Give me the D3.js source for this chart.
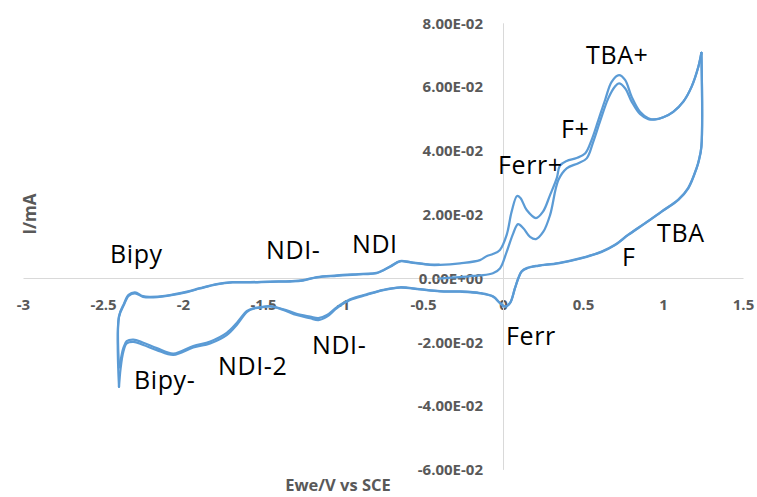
<!DOCTYPE html>
<html><head><meta charset="utf-8">
<script src="https://cdn.jsdelivr.net/npm/d3@7"></script>
<style>body{margin:0;background:#fff;} svg{display:block;}</style>
</head><body>
<svg id="chart" width="757" height="497"></svg>
<script>
// ---------- data ----------
const xTickValues = [-3, -2.5, -2, -1.5, -1, -0.5, 0, 0.5, 1, 1.5];
const xTickLabels = ["-3", "-2.5", "-2", "-1.5", "-1", "-0.5", "0", "0.5", "1", "1.5"];
const yTickValues = [0.08, 0.06, 0.04, 0.02, 0, -0.02, -0.04, -0.06];
const yTickLabels = ["8.00E-02", "6.00E-02", "4.00E-02", "2.00E-02", "0.00E+00", "-2.00E-02", "-4.00E-02", "-6.00E-02"];
const xTitle = "Ewe/V vs SCE";
const yTitle = "I/mA";

// [E (V vs SCE), I (mA)]
const anodicSweep1 = [
  [-0.40, -0.0002], [-0.27, 0.0003], [-0.144, 0.0008], [-0.063, 0.0015], [-0.019, 0.0030],
  [0.023, 0.0082], [0.064, 0.0140], [0.094, 0.0169], [0.127, 0.0156], [0.169, 0.0129],
  [0.206, 0.0122], [0.252, 0.0145], [0.294, 0.0197], [0.346, 0.0307], [0.398, 0.0344],
  [0.471, 0.0360], [0.523, 0.0375], [0.564, 0.0427], [0.606, 0.0490], [0.658, 0.0563],
  [0.700, 0.0600], [0.725, 0.0610], [0.763, 0.0595], [0.804, 0.0553], [0.856, 0.0514],
  [0.908, 0.0498], [0.950, 0.0497], [1.002, 0.0504], [1.064, 0.0521], [1.127, 0.0553],
  [1.179, 0.0600], [1.221, 0.0662], [1.24, 0.0706]
];
const cathodicSweep1 = [
  [1.24, 0.0706], [1.24, 0.0411], [1.225, 0.0370], [1.21, 0.0344], [1.158, 0.0281],
  [1.096, 0.0245], [0.992, 0.0208], [0.888, 0.0171], [0.783, 0.0135], [0.700, 0.0103],
  [0.617, 0.0082], [0.492, 0.0062], [0.346, 0.0046], [0.221, 0.0038], [0.148, 0.0030],
  [0.117, 0.0020], [0.096, -0.0001], [0.075, -0.0032], [0.044, -0.0079], [0.013, -0.0090],
  [-0.019, -0.0079], [-0.061, -0.0059], [-0.144, -0.0048], [-0.269, -0.0043], [-0.394, -0.0042],
  [-0.519, -0.0036], [-0.644, -0.0030], [-0.748, -0.0038], [-0.852, -0.0053], [-0.956, -0.0069],
  [-1.04, -0.0095], [-1.10, -0.0121], [-1.154, -0.0132], [-1.206, -0.0126], [-1.29, -0.0116],
  [-1.373, -0.0100], [-1.456, -0.0089], [-1.52, -0.0093], [-1.56, -0.0096], [-1.60, -0.0106],
  [-1.664, -0.0147], [-1.727, -0.0179], [-1.83, -0.0205], [-1.936, -0.0218], [-2.06, -0.0241],
  [-2.164, -0.0226], [-2.248, -0.0210], [-2.31, -0.0200], [-2.352, -0.0205], [-2.373, -0.0231],
  [-2.39, -0.0283], [-2.40, -0.0341]
];
const anodicSweep2 = [
  [-2.40, -0.0341], [-2.40, -0.0122], [-2.37, -0.0085], [-2.34, -0.0056], [-2.30, -0.0048],
  [-2.25, -0.0059], [-2.206, -0.0061], [-2.10, -0.0056], [-1.975, -0.0044], [-1.894, -0.0033],
  [-1.79, -0.0020], [-1.69, -0.0014], [-1.58, -0.0014], [-1.456, -0.0012], [-1.33, -0.0011],
  [-1.25, -0.0008], [-1.163, 0.0002], [-1.04, 0.0007], [-0.875, 0.0012], [-0.79, 0.0015],
  [-0.706, 0.0035], [-0.644, 0.0052], [-0.58, 0.0049], [-0.456, 0.0041], [-0.394, 0.0041],
  [-0.269, 0.0046], [-0.144, 0.0056], [-0.10, 0.0069], [-0.063, 0.0075], [-0.019, 0.0088],
  [0.023, 0.0135], [0.054, 0.0208], [0.088, 0.0257], [0.109, 0.0251], [0.148, 0.0213],
  [0.206, 0.0188], [0.25, 0.0208], [0.294, 0.0260], [0.336, 0.0313], [0.356, 0.0352],
  [0.398, 0.0367], [0.46, 0.0376], [0.513, 0.0390], [0.554, 0.0433], [0.596, 0.0495],
  [0.638, 0.0558], [0.679, 0.0615], [0.725, 0.0636], [0.763, 0.0621], [0.804, 0.0568],
  [0.856, 0.0521], [0.908, 0.0501], [0.950, 0.0497], [1.002, 0.0504], [1.064, 0.0521],
  [1.127, 0.0553], [1.179, 0.0600], [1.221, 0.0662], [1.24, 0.0706]
];
const cathodicSweep2 = [
  [1.24, 0.0706], [1.24, 0.0413], [1.225, 0.0371], [1.21, 0.0345], [1.158, 0.0283],
  [1.096, 0.0246], [0.992, 0.0209], [0.888, 0.0172], [0.783, 0.0136], [0.700, 0.0104],
  [0.617, 0.0083], [0.492, 0.0063], [0.346, 0.0047], [0.221, 0.0039], [0.148, 0.0031],
  [0.117, 0.0021], [0.096, 0.0000], [0.075, -0.0031], [0.044, -0.0078], [0.013, -0.0089],
  [-0.019, -0.0078], [-0.061, -0.0058], [-0.144, -0.0047], [-0.269, -0.0042], [-0.394, -0.0041],
  [-0.519, -0.0035], [-0.644, -0.0029], [-0.748, -0.0037], [-0.852, -0.0051], [-0.956, -0.0067],
  [-1.04, -0.0092], [-1.10, -0.0116], [-1.154, -0.0126], [-1.206, -0.0121], [-1.29, -0.0112],
  [-1.373, -0.0098], [-1.456, -0.0088], [-1.52, -0.0092], [-1.56, -0.0095], [-1.60, -0.0103],
  [-1.664, -0.0141], [-1.727, -0.0172], [-1.83, -0.0199], [-1.936, -0.0213], [-2.06, -0.0237],
  [-2.164, -0.0220], [-2.248, -0.0203], [-2.31, -0.0193], [-2.352, -0.0198], [-2.373, -0.0220],
  [-2.39, -0.0258], [-2.40, -0.0280]
];
const anodicSweep3 = [
  [-2.40, -0.0280], [-2.40, -0.0120], [-2.37, -0.0082], [-2.34, -0.0053], [-2.30, -0.0045],
  [-2.25, -0.0057], [-2.206, -0.0059], [-2.10, -0.0055], [-1.975, -0.0043], [-1.894, -0.0032],
  [-1.79, -0.0019], [-1.69, -0.0013], [-1.58, -0.0013], [-1.456, -0.0011], [-1.33, -0.0010],
  [-1.25, -0.0007], [-1.163, 0.0003], [-1.04, 0.0008], [-0.875, 0.0013], [-0.79, 0.0016],
  [-0.706, 0.0036], [-0.644, 0.0053], [-0.58, 0.0050], [-0.456, 0.0042], [-0.40, 0.0042]
];
const sweeps = [anodicSweep1, cathodicSweep1, anodicSweep2, cathodicSweep2, anodicSweep3];

// peak annotations: [label, E, I]
const annotations = [
  ["Bipy", -2.456, 0.0047],
  ["NDI-", -1.481, 0.0060],
  ["NDI", -0.944, 0.0078],
  ["Ferr+", -0.031, 0.0326],
  ["F+", 0.363, 0.0439],
  ["TBA+", 0.519, 0.0671],
  ["TBA", 0.963, 0.0113],
  ["F", 0.744, 0.0038],
  ["Ferr", 0.019, -0.0210],
  ["NDI-", -1.194, -0.0238],
  ["NDI-2", -1.781, -0.0303],
  ["Bipy-", -2.306, -0.0348]
];

// ---------- drawing ----------
const svg = d3.select("#chart");
const x = d3.scaleLinear().domain([-3, 1.5]).range([23, 743]);
const y = d3.scaleLinear().domain([-0.06, 0.08]).range([469.4, 22.8]);
const tickFont = "'Open Sans', 'Liberation Sans', sans-serif";
const axisColor = "#D9D9D9";
const labelColor = "#595959";

// X axis (at I = 0)
const gx = svg.append("g")
  .attr("transform", `translate(0,${y(0)})`)
  .call(d3.axisBottom(x).tickValues(xTickValues)
    .tickFormat((d, i) => xTickLabels[i]).tickSize(0).tickSizeOuter(0));
gx.select(".domain").attr("stroke", axisColor).attr("stroke-width", 1);
gx.selectAll("text")
  .attr("y", 27).attr("dy", "0.35em")
  .attr("fill", labelColor)
  .style("font-family", tickFont).style("font-size", "15px").style("font-weight", "bold");

// Y axis (at E = 0)
const gy = svg.append("g")
  .attr("transform", `translate(${x(0)},0)`)
  .call(d3.axisLeft(y).tickValues(yTickValues)
    .tickFormat((d, i) => yTickLabels[i]).tickSize(0).tickSizeOuter(0));
gy.select(".domain").attr("stroke", axisColor).attr("stroke-width", 1);
gy.selectAll("text")
  .attr("x", -20).attr("dy", "0.35em")
  .attr("fill", labelColor)
  .style("font-family", tickFont).style("font-size", "15px").style("font-weight", "bold");

// axis titles
svg.append("text")
  .attr("x", 338).attr("y", 485).attr("dy", "0.35em")
  .attr("text-anchor", "middle")
  .attr("fill", labelColor)
  .style("font-family", tickFont).style("font-size", "16.5px").style("font-weight", "bold")
  .text(xTitle);
svg.append("text")
  .attr("transform", "translate(30,214) rotate(-90)")
  .attr("dy", "0.35em")
  .attr("text-anchor", "middle")
  .attr("fill", labelColor)
  .style("font-family", tickFont).style("font-size", "17px").style("font-weight", "bold")
  .text(yTitle);

// curves
const line = d3.line()
  .x(d => x(d[0]))
  .y(d => y(d[1]))
  .curve(d3.curveCatmullRom.alpha(0.5));
svg.append("g").selectAll("path")
  .data(sweeps)
  .join("path")
  .attr("d", line)
  .attr("fill", "none")
  .attr("stroke", "#5B9BD5")
  .attr("stroke-width", 2.25)
  .attr("stroke-linejoin", "round")
  .attr("stroke-linecap", "round");

// annotations
svg.append("g").selectAll("text")
  .data(annotations)
  .join("text")
  .attr("x", d => x(d[1]))
  .attr("y", d => y(d[2]))
  .attr("fill", "#000")
  .style("font-family", tickFont).style("font-size", "25px")
  .style("letter-spacing", "0.6px")
  .text(d => d[0]);
</script>
</body></html>
